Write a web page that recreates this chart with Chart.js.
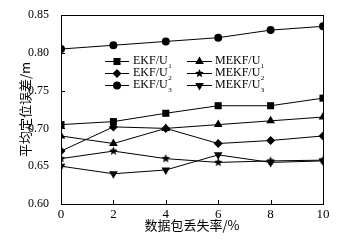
<!DOCTYPE html>
<html>
<head>
<meta charset="utf-8">
<script src="https://cdn.jsdelivr.net/npm/chart.js@4/dist/chart.umd.min.js"></script>
<style>
  html, body { margin: 0; padding: 0; background: #fff; }
  #wrap { width: 356px; height: 243px; }
</style>
</head>
<body>
<div id="wrap"><canvas id="lossChart" width="356" height="243"></canvas></div>
<script>
// data
const lossRates = [0, 2, 4, 6, 8, 10];
const ekfU1 = [0.705, 0.709, 0.720, 0.730, 0.730, 0.740];
const ekfU2 = [0.670, 0.702, 0.700, 0.680, 0.684, 0.690];
const ekfU3 = [0.805, 0.810, 0.815, 0.820, 0.830, 0.835];
const mekfU1 = [0.690, 0.680, 0.700, 0.705, 0.710, 0.715];
const mekfU2 = [0.660, 0.670, 0.660, 0.655, 0.657, 0.658];
const mekfU3 = [0.650, 0.640, 0.645, 0.665, 0.655, 0.657];
const yTicks = [0.60, 0.65, 0.70, 0.75, 0.80, 0.85];

const serif = "'Liberation Serif', 'DejaVu Serif', serif";
const cjk = "'Noto Sans CJK SC', sans-serif";

// filled five point star, used as a point image
function makeStar(r) {
  const c = document.createElement('canvas');
  const s = Math.ceil(r * 2) + 2;
  c.width = s; c.height = s;
  const g = c.getContext('2d');
  g.fillStyle = '#000';
  g.beginPath();
  for (let i = 0; i < 10; i++) {
    const rr = i % 2 == 0 ? r : r * 0.45;
    const a = -Math.PI / 2 + i * Math.PI / 5;
    const px = s / 2 + rr * Math.cos(a), py = s / 2 + rr * Math.sin(a);
    if (i == 0) g.moveTo(px, py); else g.lineTo(px, py);
  }
  g.closePath();
  g.fill();
  return c;
}
const starImg = makeStar(4.5);

function series(label, values, style, radius, rotation) {
  return {
    label: label,
    data: lossRates.map((x, i) => ({x: x, y: values[i]})),
    borderColor: '#000',
    backgroundColor: '#000',
    borderWidth: 1,
    pointStyle: style,
    pointRadius: radius,
    pointRotation: rotation || 0,
    pointBackgroundColor: '#000',
    pointBorderColor: '#000',
    pointBorderWidth: 0,
    tension: 0,
  };
}

const datasets = [
  series('EKF/U', ekfU1, 'rect', 5),
  series('EKF/U', ekfU2, 'rectRot', 4.5),
  series('EKF/U', ekfU3, 'circle', 4),
  series('MEKF/U', mekfU1, 'triangle', 5),
  series('MEKF/U', mekfU2, starImg, 4.5),
  series('MEKF/U', mekfU3, 'triangle', 5, 180),
];
const subs = ['1', '2', '3', '1', '2', '3'];

// frame, inward ticks and the two-column legend
const framePlugin = {
  id: 'frame',
  afterDraw(chart) {
    const ctx = chart.ctx;
    const a = chart.chartArea;
    const xs = chart.scales.x, ys = chart.scales.y;
    ctx.save();
    ctx.strokeStyle = '#000';
    ctx.lineWidth = 1;
    ctx.strokeRect(Math.round(a.left) + 0.5, Math.round(a.top) + 0.5,
                   Math.round(a.right - a.left), Math.round(a.bottom - a.top));
    ctx.beginPath();
    lossRates.forEach(v => {
      const px = Math.round(xs.getPixelForValue(v)) + 0.5;
      ctx.moveTo(px, a.bottom);
      ctx.lineTo(px, a.bottom - 4);
    });
    yTicks.forEach(v => {
      const py = Math.round(ys.getPixelForValue(v)) + 0.5;
      ctx.moveTo(a.left, py);
      ctx.lineTo(a.left + 4, py);
    });
    ctx.stroke();

    // legend
    const cols = [{x0: 105, x1: 129, tx: 133}, {x0: 187, x1: 212, tx: 215}];
    const rows = [61, 73, 85];
    chart.data.datasets.forEach((ds, i) => {
      const col = cols[Math.floor(i / 3)];
      const y = rows[i % 3];
      ctx.beginPath();
      ctx.moveTo(col.x0, y + 0.5);
      ctx.lineTo(col.x1, y + 0.5);
      ctx.stroke();
      Chart.helpers.drawPoint(ctx, {
        pointStyle: ds.pointStyle,
        radius: ds.pointRadius,
        rotation: ds.pointRotation,
        borderWidth: 0,
      }, (col.x0 + col.x1) / 2, y + 0.5);
      ctx.fillStyle = '#000';
      ctx.font = '12px ' + serif;
      ctx.textBaseline = 'middle';
      ctx.textAlign = 'left';
      ctx.fillText(ds.label, col.tx, y);
      const w = ctx.measureText(ds.label).width;
      ctx.font = '7px ' + serif;
      ctx.fillText(subs[i], col.tx + w + 0.5, y + 5);
    });
    ctx.restore();
  }
};

const lossChartConfig = {
  type: 'line',
  data: {datasets: datasets},
  options: {
    responsive: false,
    animation: false,
    layout: {padding: {top: 15, right: 33, left: 0, bottom: 0}},
    plugins: {legend: {display: false}, tooltip: {enabled: false}},
    scales: {
      x: {
        type: 'linear',
        min: 0,
        max: 10,
        afterFit: (s) => { s.height = 39; },
        afterBuildTicks: (s) => { s.ticks = lossRates.map(v => ({value: v})); },
        grid: {display: false},
        border: {display: false},
        ticks: {color: '#000', font: {family: serif, size: 13}, padding: -5},
        title: {display: true, text: '数据包丢失率/%', color: '#000',
                font: {family: cjk, size: 13}, padding: {top: 0, bottom: 10}},
      },
      y: {
        min: 0.6,
        max: 0.85,
        afterFit: (s) => { s.width = 61; },
        afterBuildTicks: (s) => { s.ticks = yTicks.map(v => ({value: v})); },
        grid: {display: false},
        border: {display: false},
        ticks: {color: '#000', font: {family: serif, size: 12}, padding: 4,
                callback: (v) => v.toFixed(2)},
        title: {display: true, text: '平均定位误差/m', color: '#000',
                font: {family: cjk, size: 13}, padding: {top: 17, bottom: 0}},
      },
    },
  },
  plugins: [framePlugin],
};

const lossChart = new Chart(document.getElementById('lossChart'), lossChartConfig);
</script>
</body>
</html>
